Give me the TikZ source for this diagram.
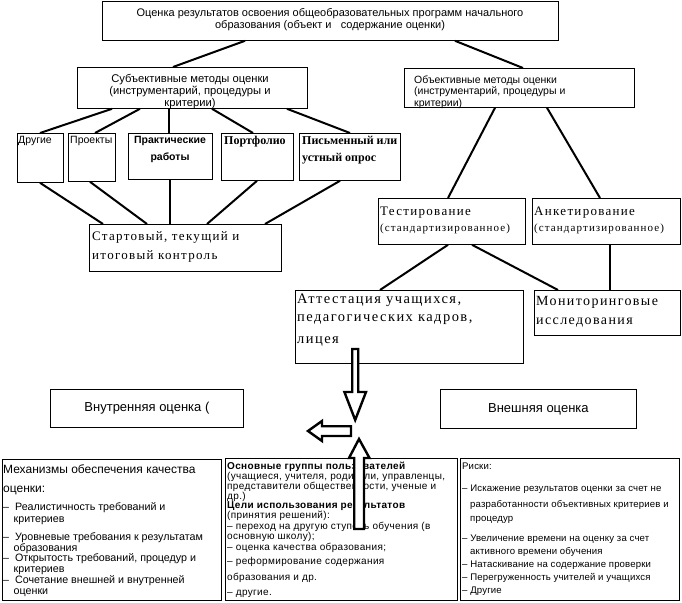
\documentclass[tikz,border=0pt]{standalone}
\usepackage{fontspec}
\setmainfont{Liberation Sans}
\newfontfamily\spacedserif{Liberation Serif}[LetterSpace=10]
\newfontfamily\plainserif{Liberation Serif}
\newfontfamily\widesans{Liberation Sans}[LetterSpace=3.5]
\newfontfamily\risksans{Liberation Sans}[LetterSpace=1.5]
\setlength{\lineskiplimit}{-20pt}
\begin{document}
\begin{tikzpicture}
    [x=1pt,y=-1pt,
    box/.style={draw,line width=0.8pt,inner sep=0pt,anchor=north west},
    txt/.style={inner sep=0pt,anchor=north west,align=left},
    link/.style={line width=2pt},
    blockarrow/.style={draw,line width=2.4pt,fill=white,line join=miter}]

    \useasboundingbox (0,0) rectangle (682,602);

    % boxes
    \node[box,minimum width=456pt,minimum height=39pt] (top) at (102,1) {};
    \node[box,minimum width=230pt,minimum height=41pt] (sub) at (77,67) {};
    \node[box,minimum width=230pt,minimum height=39pt] (obj) at (404,68) {};
    \node[box,minimum width=46pt,minimum height=49pt] (oth) at (17,133) {};
    \node[box,minimum width=47pt,minimum height=48pt] (proj) at (68,133) {};
    \node[box,minimum width=84pt,minimum height=46pt] (prak) at (128,133) {};
    \node[box,minimum width=72pt,minimum height=47pt] (port) at (221,133) {};
    \node[box,minimum width=101pt,minimum height=47pt] (pism) at (299,133) {};
    \node[box,minimum width=192pt,minimum height=47pt] (start) at (89,224) {};
    \node[box,minimum width=147pt,minimum height=46pt] (test) at (378,198) {};
    \node[box,minimum width=148pt,minimum height=46pt] (anket) at (532,198) {};
    \node[box,minimum width=228pt,minimum height=73pt] (att) at (295,290) {};
    \node[box,minimum width=146pt,minimum height=45pt] (monit) at (534,290) {};
    \node[box,minimum width=193pt,minimum height=38pt,font=\fontsize{13}{15}\selectfont] (inner) at (50,389) {Внутренняя оценка (};
    \node[box,minimum width=196pt,minimum height=39pt,font=\fontsize{13}{15}\selectfont] (outer) at (440,389) {Внешняя оценка};
    \node[box,minimum width=219pt,minimum height=141pt] (mech) at (2,459) {};
    \node[box,minimum width=232pt,minimum height=142pt] (users) at (225,458) {};
    \node[box,minimum width=219pt,minimum height=142pt] (risk) at (460,458) {};

    % texts
    \node[txt,anchor=north,align=center,font=\fontsize{11}{12}\selectfont] (topT) at (330,8.3)
        {Оценка результатов освоения общеобразовательных программ начального\\образования (объект и \ \ содержание оценки)};
    \node[txt,anchor=north,align=center,font=\fontsize{11.2}{12}\selectfont] (subT) at (190,74.2)
        {Субъективные методы оценки\\(инструментарий, процедуры и\\критерии)};
    \node[txt,font=\fontsize{10.5}{11.5}\selectfont] (objT) at (414,75.5)
        {Объективные методы оценки\\(инструментарий, процедуры и\\критерии)};
    \node[txt,font=\fontsize{10.5}{11}\selectfont] (othT) at (18,136.5) {Другие};
    \node[txt,font=\fontsize{10.5}{11}\selectfont] (projT) at (70,136.5) {Проекты};
    \node[txt,anchor=north,align=center,font=\bfseries\fontsize{10.5}{17}\selectfont] (prakT) at (170,136.5) {Практические\\работы};
    \node[txt,font=\plainserif\bfseries\fontsize{12}{11}\selectfont] (portT) at (224,136) {Портфолио};
    \node[txt,font=\plainserif\bfseries\fontsize{12}{17}\selectfont] (pismT) at (302,136) {Письменный или\\устный опрос};
    \node[txt,font=\spacedserif\fontsize{13}{19}\selectfont] (startT) at (92,231.5) {Стартовый, текущий и\\итоговый контроль};
    \node[txt,font=\spacedserif\fontsize{13}{16}\selectfont] (testT) at (380,206.5)
        {Тестирование\\{\fontsize{11}{16}\selectfont(стандартизированное)}};
    \node[txt,font=\spacedserif\fontsize{13}{16}\selectfont] (anketT) at (534,206.5)
        {Анкетирование\\{\fontsize{11}{16}\selectfont(стандартизированное)}};
    \node[txt,font=\spacedserif\fontsize{14.5}{18}\selectfont] (attT) at (297,294)
        {Аттестация учащихся,\\педагогических кадров,\\[4pt]лицея};
    \node[txt,font=\spacedserif\fontsize{14}{19}\selectfont] (monitT) at (536,296)
        {Мониторинговые\\исследования};
    \node[txt,font=\fontsize{10.7}{11}\selectfont] (mechT) at (3,464.5)
        {{\fontsize{12}{11}\selectfont Механизмы обеспечения качества}\\[8pt]
         {\fontsize{12}{11}\selectfont оценки:}\\[7pt]
         –\ \ Реалистичность требований и\\[1pt]
         \hspace*{10.5pt}критериев\\[7pt]
         –\ \ Уровневые требования к результатам\\
         \hspace*{10.5pt}образования\\[-1pt]
         –\ \ Открытость требований, процедур и\\
         \hspace*{10.5pt}критериев\\
         –\ \ Сочетание внешней и внутренней\\
         \hspace*{10.5pt}оценки};
    \node[txt,font=\widesans\fontsize{10}{10}\selectfont] (usersT) at (227,462)
        {\textbf{Основные группы пользователей}\\
         (учащиеся, учителя, родители, управленцы,\\
         представители общественности, ученые и\\
         др.)\\[-1pt]
         \textbf{Цели использования результатов}\\
         (принятия решений):\\[1pt]
         – переход на другую ступень обучения (в\\
         основную школу);\\[1pt]
         – оценка качества образования;\\[4pt]
         – реформирование содержания\\[6pt]
         образования и др.\\[5pt]
         – другие.};
    \node[txt,font=\risksans\fontsize{9.6}{13}\selectfont] (riskT) at (462,463)
        {Риски:\\[9pt]
         – Искажение результатов оценки за счет не\\[3pt]
         \hspace*{8pt}разработанности объективных критериев и\\[1pt]
         \hspace*{8pt}процедур\\[7pt]
         – Увеличение времени на оценку за счет\\
         \hspace*{8pt}активного времени обучения\\
         – Натаскивание на содержание проверки\\
         – Перегруженность учителей и учащихся\\
         – Другие};

    % connectors
    \draw[link] ([xshift=143pt]top.south west) -- ([xshift=96pt]sub.north west);
    \draw[link] ([xshift=353pt]top.south west) -- ([xshift=119pt]obj.north west);
    \draw[link] ([xshift=35pt]sub.south west) -- ([xshift=23pt]oth.north west);
    \draw[link] ([xshift=63pt]sub.south west) -- ([xshift=27pt]proj.north west);
    \draw[link] ([xshift=92pt]sub.south west) -- ([xshift=41pt]prak.north west);
    \draw[link] ([xshift=135pt]sub.south west) -- ([xshift=32pt]port.north west);
    \draw[link] ([xshift=210pt]sub.south west) -- ([xshift=51pt]pism.north west);
    \draw[link] ([xshift=23pt]oth.south west) -- ([xshift=14pt]start.north west);
    \draw[link] ([xshift=22pt]proj.south west) -- ([xshift=58pt]start.north west);
    \draw[link] ([xshift=42pt]prak.south west) -- ([xshift=81pt]start.north west);
    \draw[link] ([xshift=36pt]port.south west) -- ([xshift=118pt]start.north west);
    \draw[link] ([xshift=41pt]pism.south west) -- ([xshift=176pt]start.north west);
    \draw[link] ([xshift=91pt]obj.south west) -- ([xshift=70pt]test.north west);
    \draw[link] ([xshift=143pt]obj.south west) -- ([xshift=68pt]anket.north west);
    \draw[link] ([xshift=70pt]test.south west) -- ([xshift=85pt]att.north west);
    \draw[link] ([xshift=94pt]test.south west) -- ([xshift=24pt]monit.north west);
    \draw[link] ([xshift=78pt]anket.south west) -- ([xshift=76pt]monit.north west);

    % block arrows
    \draw[blockarrow] (352.2,349) -- (358.2,349) -- (358.2,392) -- (366,392) -- (355.2,420)
        -- (344.4,392) -- (352.2,392) -- cycle;
    \draw[blockarrow] (351,426.2) -- (351,436) -- (322,436) -- (322,441) -- (308,431)
        -- (322,421) -- (322,426.2) -- cycle;
    \draw[blockarrow] (354.2,529) -- (364,529) -- (364,458) -- (369.5,458) -- (359,439)
        -- (349,458) -- (354.2,458) -- cycle;
\end{tikzpicture}
\end{document}
